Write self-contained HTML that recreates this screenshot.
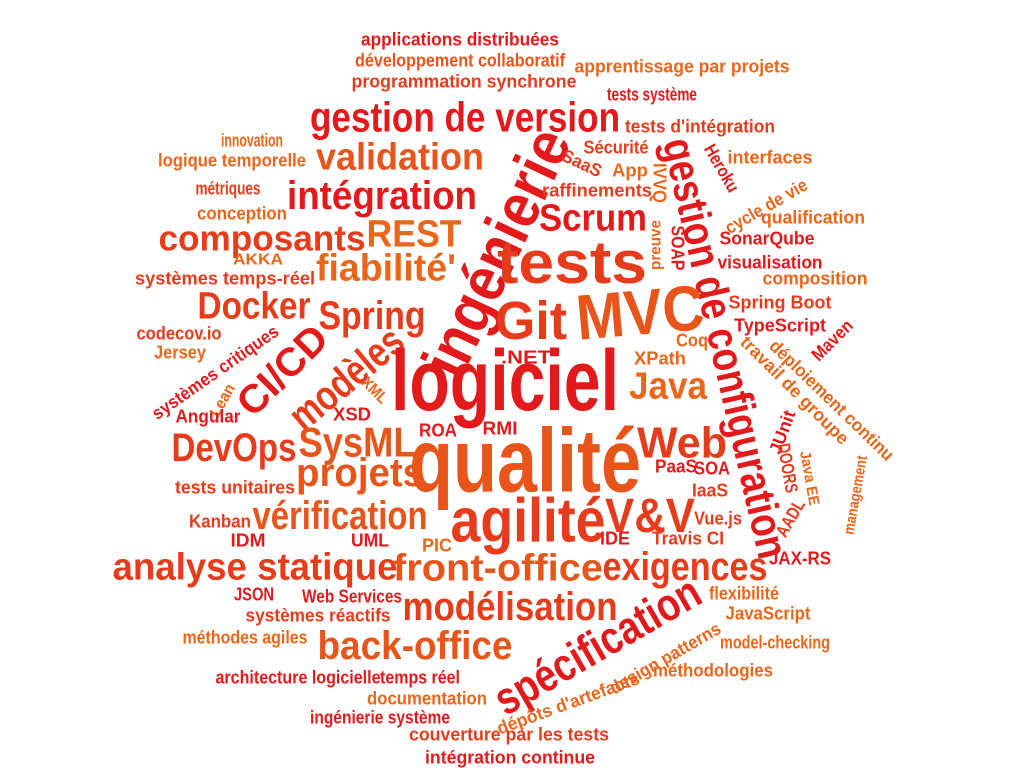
<!DOCTYPE html>
<html><head><meta charset="utf-8"><style>
html,body{margin:0;padding:0;background:#fff;width:1024px;height:768px;overflow:hidden}
svg text{font-family:"Liberation Sans",sans-serif;font-weight:bold;text-anchor:middle}
.r{fill:#e31a1c}.a{fill:#e63c1c}.b{fill:#e8551b}.c{fill:#ea661a}
</style></head><body>
<svg width="1024" height="768" viewBox="0 0 1024 768" xmlns="http://www.w3.org/2000/svg">
<g font-size="18">
<text class="r" x="460" y="39" dy=".35em" textLength="198" lengthAdjust="spacingAndGlyphs">applications distribuées</text>
<text class="b" x="460" y="60" dy=".35em" textLength="210" lengthAdjust="spacingAndGlyphs">développement collaboratif</text>
<text class="c" x="682" y="66" dy=".35em" textLength="215" lengthAdjust="spacingAndGlyphs">apprentissage par projets</text>
<text class="a" x="464" y="81" dy=".35em" textLength="225" lengthAdjust="spacingAndGlyphs">programmation synchrone</text>
<text class="r" x="652" y="94" dy=".35em" textLength="90" lengthAdjust="spacingAndGlyphs">tests système</text>
<text class="r" x="465" y="117" dy=".35em" font-size="42" textLength="310" lengthAdjust="spacingAndGlyphs">gestion de version</text>
<text class="a" x="700" y="126" dy=".35em" textLength="150" lengthAdjust="spacingAndGlyphs">tests d'intégration</text>
<text class="c" x="252" y="140" dy=".35em" textLength="62" lengthAdjust="spacingAndGlyphs">innovation</text>
<text class="c" x="232" y="160" dy=".35em" textLength="148" lengthAdjust="spacingAndGlyphs">logique temporelle</text>
<text class="b" x="400" y="156" dy=".35em" font-size="38" textLength="168" lengthAdjust="spacingAndGlyphs">validation</text>
<text class="r" transform="translate(496,252) rotate(-65)" dy=".35em" font-size="64" textLength="265" lengthAdjust="spacingAndGlyphs">ingénierie</text>
<text class="r" transform="translate(726,348) rotate(77)" dy=".35em" font-size="44" textLength="430" lengthAdjust="spacingAndGlyphs">gestion de configuration</text>
<text class="a" x="616" y="147" dy=".35em" textLength="65" lengthAdjust="spacingAndGlyphs">Sécurité</text>
<text class="a" transform="translate(582,163) rotate(25)" dy=".35em" textLength="42" lengthAdjust="spacingAndGlyphs">SaaS</text>
<text class="c" x="630" y="170" dy=".35em" textLength="36" lengthAdjust="spacingAndGlyphs">App</text>
<text class="c" transform="translate(660,183) rotate(90)" dy=".35em" textLength="40" lengthAdjust="spacingAndGlyphs">IVVQ</text>
<text class="r" transform="translate(722,168) rotate(60)" dy=".35em" textLength="52" lengthAdjust="spacingAndGlyphs">Heroku</text>
<text class="c" x="770" y="157" dy=".35em" textLength="85" lengthAdjust="spacingAndGlyphs">interfaces</text>
<text class="a" x="597" y="190" dy=".35em" textLength="110" lengthAdjust="spacingAndGlyphs">raffinements</text>
<text class="c" transform="translate(766,206) rotate(-30)" dy=".35em" textLength="92" lengthAdjust="spacingAndGlyphs">cycle de vie</text>
<text class="a" x="228" y="188" dy=".35em" textLength="65" lengthAdjust="spacingAndGlyphs">métriques</text>
<text class="r" x="382" y="195" dy=".35em" font-size="40" textLength="190" lengthAdjust="spacingAndGlyphs">intégration</text>
<text class="r" x="593" y="217" dy=".35em" font-size="38" textLength="108" lengthAdjust="spacingAndGlyphs">Scrum</text>
<text class="c" x="813" y="217" dy=".35em" textLength="104" lengthAdjust="spacingAndGlyphs">qualification</text>
<text class="c" transform="translate(655,245) rotate(-90)" dy=".35em" font-size="16" textLength="50" lengthAdjust="spacingAndGlyphs">preuve</text>
<text class="r" transform="translate(678,248) rotate(90)" dy=".35em" textLength="45" lengthAdjust="spacingAndGlyphs">SOAP</text>
<text class="c" x="242" y="213" dy=".35em" textLength="90" lengthAdjust="spacingAndGlyphs">conception</text>
<text class="a" x="262" y="238" dy=".35em" font-size="36" textLength="207" lengthAdjust="spacingAndGlyphs">composants</text>
<text class="c" x="414" y="233" dy=".35em" font-size="38" textLength="95" lengthAdjust="spacingAndGlyphs">REST</text>
<text class="r" x="767" y="238" dy=".35em" textLength="95" lengthAdjust="spacingAndGlyphs">SonarQube</text>
<text class="c" x="258" y="259" dy=".35em" font-size="16" textLength="50" lengthAdjust="spacingAndGlyphs">AKKA</text>
<text class="a" x="572" y="262" dy=".35em" font-size="60" textLength="150" lengthAdjust="spacingAndGlyphs">tests</text>
<text class="r" x="770" y="262" dy=".35em" textLength="105" lengthAdjust="spacingAndGlyphs">visualisation</text>
<text class="a" x="225" y="278" dy=".35em" textLength="180" lengthAdjust="spacingAndGlyphs">systèmes temps-réel</text>
<text class="c" x="386" y="267" dy=".35em" font-size="38" textLength="140" lengthAdjust="spacingAndGlyphs">fiabilité'</text>
<text class="c" x="815" y="278" dy=".35em" textLength="105" lengthAdjust="spacingAndGlyphs">composition</text>
<text class="a" x="254" y="305" dy=".35em" font-size="38" textLength="113" lengthAdjust="spacingAndGlyphs">Docker</text>
<text class="a" x="372" y="315" dy=".35em" font-size="40" textLength="107" lengthAdjust="spacingAndGlyphs">Spring</text>
<text class="a" x="531" y="320" dy=".35em" font-size="54" textLength="72" lengthAdjust="spacingAndGlyphs">Git</text>
<text class="b" transform="translate(640,312) rotate(-5)" dy=".35em" font-size="64" textLength="128" lengthAdjust="spacingAndGlyphs">MVC</text>
<text class="a" x="780" y="302" dy=".35em" textLength="103" lengthAdjust="spacingAndGlyphs">Spring Boot</text>
<text class="a" x="179" y="333" dy=".35em" textLength="85" lengthAdjust="spacingAndGlyphs">codecov.io</text>
<text class="r" x="780" y="325" dy=".35em" textLength="92" lengthAdjust="spacingAndGlyphs">TypeScript</text>
<text class="c" x="180" y="352" dy=".35em" textLength="52" lengthAdjust="spacingAndGlyphs">Jersey</text>
<text class="r" transform="translate(215,372) rotate(-35)" dy=".35em" textLength="150" lengthAdjust="spacingAndGlyphs">systèmes critiques</text>
<text class="r" transform="translate(282,370) rotate(-45)" dy=".35em" font-size="40" textLength="110" lengthAdjust="spacingAndGlyphs">CI/CD</text>
<text class="a" transform="translate(346,378) rotate(-40)" dy=".35em" font-size="42" textLength="135" lengthAdjust="spacingAndGlyphs">modèles</text>
<text class="c" x="692" y="340" dy=".35em" textLength="32" lengthAdjust="spacingAndGlyphs">Coq</text>
<text class="r" transform="translate(832,340) rotate(-45)" dy=".35em" textLength="50" lengthAdjust="spacingAndGlyphs">Maven</text>
<text class="c" transform="translate(795,390) rotate(45)" dy=".35em" textLength="145" lengthAdjust="spacingAndGlyphs">travail de groupe</text>
<text class="c" transform="translate(832,400) rotate(44)" dy=".35em" textLength="165" lengthAdjust="spacingAndGlyphs">déploiement continu</text>
<text class="r" x="526" y="357" dy=".35em" textLength="50" lengthAdjust="spacingAndGlyphs">.NET</text>
<text class="c" x="660" y="358" dy=".35em" textLength="52" lengthAdjust="spacingAndGlyphs">XPath</text>
<text class="r" x="505" y="380" dy=".35em" font-size="86" textLength="228" lengthAdjust="spacingAndGlyphs">logiciel</text>
<text class="c" x="668" y="385" dy=".35em" font-size="38" textLength="78" lengthAdjust="spacingAndGlyphs">Java</text>
<text class="c" transform="translate(222,400) rotate(-60)" dy=".35em" font-size="16" textLength="35" lengthAdjust="spacingAndGlyphs">Lean</text>
<text class="c" transform="translate(375,390) rotate(45)" dy=".35em" font-size="16" textLength="30" lengthAdjust="spacingAndGlyphs">XML</text>
<text class="r" x="208" y="416" dy=".35em" textLength="65" lengthAdjust="spacingAndGlyphs">Angular</text>
<text class="r" x="352" y="414" dy=".35em" textLength="38" lengthAdjust="spacingAndGlyphs">XSD</text>
<text class="b" x="357" y="442" dy=".35em" font-size="42" textLength="117" lengthAdjust="spacingAndGlyphs">SysML</text>
<text class="a" x="234" y="447" dy=".35em" font-size="40" textLength="125" lengthAdjust="spacingAndGlyphs">DevOps</text>
<text class="r" x="438" y="430" dy=".35em" textLength="38" lengthAdjust="spacingAndGlyphs">ROA</text>
<text class="r" x="500" y="428" dy=".35em" textLength="35" lengthAdjust="spacingAndGlyphs">RMI</text>
<text class="r" transform="translate(782,432) rotate(-70)" dy=".35em" textLength="45" lengthAdjust="spacingAndGlyphs">JUnit</text>
<text class="a" x="682" y="442" dy=".35em" font-size="44" textLength="90" lengthAdjust="spacingAndGlyphs">Web</text>
<text class="b" x="525" y="460" dy=".35em" font-size="90" textLength="232" lengthAdjust="spacingAndGlyphs">qualité</text>
<text class="a" transform="translate(788,468) rotate(80)" dy=".35em" textLength="50" lengthAdjust="spacingAndGlyphs">DOORS</text>
<text class="c" transform="translate(810,478) rotate(80)" dy=".35em" font-size="15" textLength="55" lengthAdjust="spacingAndGlyphs">Java EE</text>
<text class="c" transform="translate(855,495) rotate(-80)" dy=".35em" font-size="15" textLength="80" lengthAdjust="spacingAndGlyphs">management</text>
<text class="b" x="360" y="472" dy=".35em" font-size="40" textLength="128" lengthAdjust="spacingAndGlyphs">projets</text>
<text class="r" x="676" y="466" dy=".35em" textLength="42" lengthAdjust="spacingAndGlyphs">PaaS</text>
<text class="r" x="712" y="468" dy=".35em" textLength="36" lengthAdjust="spacingAndGlyphs">SOA</text>
<text class="a" x="235" y="487" dy=".35em" textLength="120" lengthAdjust="spacingAndGlyphs">tests unitaires</text>
<text class="a" x="710" y="490" dy=".35em" textLength="36" lengthAdjust="spacingAndGlyphs">IaaS</text>
<text class="a" x="528" y="520" dy=".35em" font-size="62" textLength="155" lengthAdjust="spacingAndGlyphs">agilité</text>
<text class="a" x="650" y="515" dy=".35em" font-size="48" textLength="90" lengthAdjust="spacingAndGlyphs">V&amp;V</text>
<text class="b" x="340" y="515" dy=".35em" font-size="40" textLength="175" lengthAdjust="spacingAndGlyphs">vérification</text>
<text class="a" x="220" y="521" dy=".35em" textLength="62" lengthAdjust="spacingAndGlyphs">Kanban</text>
<text class="a" x="718" y="518" dy=".35em" textLength="48" lengthAdjust="spacingAndGlyphs">Vue.js</text>
<text class="a" transform="translate(790,518) rotate(-60)" dy=".35em" textLength="40" lengthAdjust="spacingAndGlyphs">AADL</text>
<text class="r" x="248" y="540" dy=".35em" textLength="35" lengthAdjust="spacingAndGlyphs">IDM</text>
<text class="r" x="370" y="540" dy=".35em" textLength="38" lengthAdjust="spacingAndGlyphs">UML</text>
<text class="c" x="437" y="545" dy=".35em" textLength="30" lengthAdjust="spacingAndGlyphs">PIC</text>
<text class="r" x="615" y="538" dy=".35em" textLength="30" lengthAdjust="spacingAndGlyphs">IDE</text>
<text class="a" x="688" y="538" dy=".35em" textLength="72" lengthAdjust="spacingAndGlyphs">Travis CI</text>
<text class="a" x="255" y="566" dy=".35em" font-size="38" textLength="285" lengthAdjust="spacingAndGlyphs">analyse statique</text>
<text class="b" x="498" y="567" dy=".35em" font-size="38" textLength="210" lengthAdjust="spacingAndGlyphs">front-office</text>
<text class="a" x="685" y="566" dy=".35em" font-size="40" textLength="165" lengthAdjust="spacingAndGlyphs">exigences</text>
<text class="r" x="800" y="558" dy=".35em" textLength="62" lengthAdjust="spacingAndGlyphs">JAX-RS</text>
<text class="r" x="254" y="594" dy=".35em" textLength="40" lengthAdjust="spacingAndGlyphs">JSON</text>
<text class="r" x="352" y="596" dy=".35em" textLength="100" lengthAdjust="spacingAndGlyphs">Web Services</text>
<text class="a" x="510" y="606" dy=".35em" font-size="40" textLength="215" lengthAdjust="spacingAndGlyphs">modélisation</text>
<text class="c" x="744" y="593" dy=".35em" textLength="70" lengthAdjust="spacingAndGlyphs">flexibilité</text>
<text class="r" transform="translate(597,645) rotate(-30)" dy=".35em" font-size="46" textLength="230" lengthAdjust="spacingAndGlyphs">spécification</text>
<text class="a" x="318" y="615" dy=".35em" textLength="145" lengthAdjust="spacingAndGlyphs">systèmes réactifs</text>
<text class="c" x="768" y="613" dy=".35em" textLength="85" lengthAdjust="spacingAndGlyphs">JavaScript</text>
<text class="c" x="245" y="637" dy=".35em" textLength="125" lengthAdjust="spacingAndGlyphs">méthodes agiles</text>
<text class="b" x="415" y="645" dy=".35em" font-size="40" textLength="195" lengthAdjust="spacingAndGlyphs">back-office</text>
<text class="c" transform="translate(665,658) rotate(-30)" dy=".35em" textLength="125" lengthAdjust="spacingAndGlyphs">design patterns</text>
<text class="c" x="775" y="642" dy=".35em" textLength="110" lengthAdjust="spacingAndGlyphs">model-checking</text>
<text class="r" x="298" y="677" dy=".35em" textLength="165" lengthAdjust="spacingAndGlyphs">architecture logicielle</text>
<text class="r" x="420" y="677" dy=".35em" textLength="80" lengthAdjust="spacingAndGlyphs">temps réel</text>
<text class="c" x="713" y="670" dy=".35em" textLength="120" lengthAdjust="spacingAndGlyphs">méthodologies</text>
<text class="c" x="427" y="698" dy=".35em" textLength="120" lengthAdjust="spacingAndGlyphs">documentation</text>
<text class="c" transform="translate(568,703) rotate(-20)" dy=".35em" textLength="150" lengthAdjust="spacingAndGlyphs">dépôts d'artefacts</text>
<text class="r" x="380" y="717" dy=".35em" textLength="140" lengthAdjust="spacingAndGlyphs">ingénierie système</text>
<text class="a" x="509" y="734" dy=".35em" textLength="200" lengthAdjust="spacingAndGlyphs">couverture par les tests</text>
<text class="r" x="510" y="757" dy=".35em" textLength="170" lengthAdjust="spacingAndGlyphs">intégration continue</text>
</g>
</svg>
</body></html>
